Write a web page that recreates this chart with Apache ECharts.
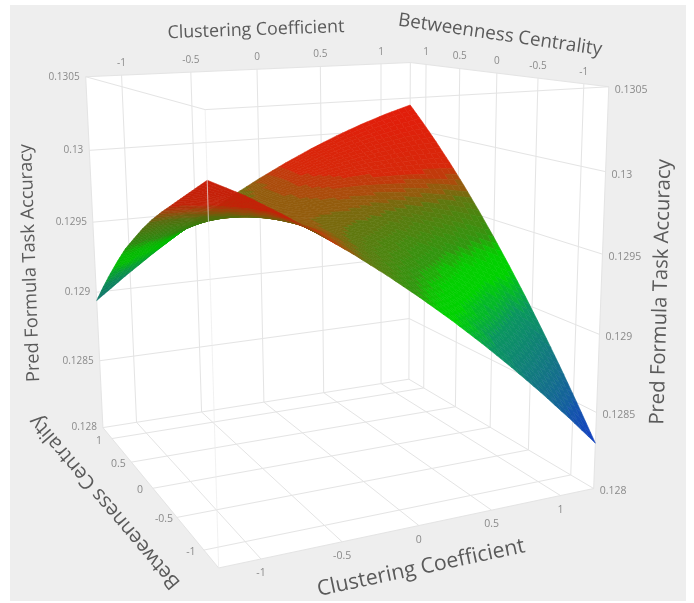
<!DOCTYPE html>
<html><head><meta charset="utf-8">
<style>html,body{margin:0;padding:0;background:#fff}#c{width:694px;height:603px}</style>
<script src="https://cdn.jsdelivr.net/npm/echarts@6/dist/echarts.min.js"></script>
</head><body><div id="c"></div>
<script>
const clusterTicks=[-1,-0.5,0,0.5,1];
const betweenTicks=[1,0.5,0,-0.5,-1];
const zTicks=[0.128,0.1285,0.129,0.1295,0.13,0.1305];
const gridRange=[-1.25,1.25], zRange=[0.128,0.1305];
const gridAxis=[-1.25,-1.0417,-0.8333,-0.625,-0.4167,-0.2083,0,0.2083,0.4167,0.625,0.8333,1.0417,1.25];
// rows: Betweenness Centrality rising from -1.25; columns: Clustering Coefficient rising from -1.25
const zB0=[0.13014,0.130042,0.129925,0.1298,0.129667,0.129525,0.129375,0.129217,0.12905,0.128875,0.128692,0.1285,0.1283];
const zB1=[0.130065,0.12999,0.12991,0.129806,0.129694,0.129574,0.129446,0.129309,0.129164,0.12901,0.128848,0.128678,0.128499];
const zB2=[0.12999,0.129945,0.129887,0.129805,0.129714,0.129616,0.129509,0.129393,0.129269,0.129137,0.128997,0.128848,0.128691];
const zB3=[0.129915,0.129893,0.129848,0.129782,0.129711,0.129635,0.129556,0.12947,0.129367,0.129257,0.129138,0.129011,0.128875];
const zB4=[0.12984,0.129835,0.129804,0.129755,0.129703,0.129651,0.129597,0.129539,0.129458,0.129369,0.129271,0.129165,0.129051];
const zB5=[0.12976,0.12977,0.129754,0.129723,0.129692,0.129662,0.129633,0.1296,0.12954,0.129473,0.129397,0.129312,0.129219];
const zB6=[0.12967,0.129705,0.129698,0.129687,0.129677,0.12967,0.129663,0.129653,0.129615,0.129569,0.129514,0.129451,0.12938];
const zB7=[0.12957,0.129622,0.129638,0.12965,0.129662,0.129675,0.129689,0.129698,0.129682,0.129657,0.129624,0.129583,0.129533];
const zB8=[0.129468,0.129531,0.129572,0.129609,0.129643,0.129677,0.129709,0.129736,0.129741,0.129738,0.129726,0.129706,0.129678];
const zB9=[0.129347,0.129432,0.129501,0.129563,0.129621,0.129674,0.129723,0.129766,0.129793,0.129811,0.12982,0.129822,0.129815];
const zB10=[0.129219,0.129326,0.129424,0.129513,0.129594,0.129667,0.129732,0.129788,0.129836,0.129876,0.129907,0.12993,0.129944];
const zB11=[0.129084,0.129211,0.129331,0.129442,0.129544,0.129639,0.129725,0.129803,0.129872,0.129933,0.129986,0.13003,0.130066];
const zB12=[0.12894,0.129089,0.12923,0.129363,0.129487,0.129603,0.12971,0.129809,0.1299,0.129983,0.130057,0.130123,0.13018];
const zValues=[zB0,zB1,zB2,zB3,zB4,zB5,zB6,zB7,zB8,zB9,zB10,zB11,zB12];
const N=gridAxis.length;
const cubeCorners=[[0,0,0,218,568],[1,0,0,594,487],[0,1,0,103,428],[1,1,0,409,380],[0,0,1,204,110],[1,0,1,610,88],[0,1,1,87,76],[1,1,1,409,62]];
function solve(A,y){const n=y.length;const M=A.map((r,i)=>[...r,y[i]]);for(let i=0;i<n;i++){let p=i;for(let k=i+1;k<n;k++)if(Math.abs(M[k][i])>Math.abs(M[p][i]))p=k;[M[i],M[p]]=[M[p],M[i]];for(let k=0;k<n;k++){if(k===i)continue;const f=M[k][i]/M[i][i];for(let j=i;j<=n;j++)M[k][j]-=f*M[i][j];}}return M.map((r,i)=>r[n]/r[i]);}
const cam=(()=>{const rows=[],ys=[];cubeCorners.forEach(([u,v,w,x,y])=>{rows.push([u,v,w,1,0,0,0,0,-x*u,-x*v,-x*w]);ys.push(x);rows.push([0,0,0,0,u,v,w,1,-y*u,-y*v,-y*w]);ys.push(y);});
const AtA=Array.from({length:11},(_,i)=>Array.from({length:11},(_,j)=>rows.reduce((s,r)=>s+r[i]*r[j],0)));const Aty=Array.from({length:11},(_,i)=>rows.reduce((s,r,k)=>s+r[i]*ys[k],0));return solve(AtA,Aty);})();
function proj(c,b,z){const u=(c-gridRange[0])/(gridRange[1]-gridRange[0]),v=(b-gridRange[0])/(gridRange[1]-gridRange[0]),w=(z-zRange[0])/(zRange[1]-zRange[0]);const h=cam[8]*u+cam[9]*v+cam[10]*w+1;return [(cam[0]*u+cam[1]*v+cam[2]*w+cam[3])/h,(cam[4]*u+cam[5]*v+cam[6]*w+cam[7])/h,h];}
const cMin=gridRange[0],cMax=gridRange[1],zMin=zRange[0],zMax=zRange[1];
const bandStep=0.00004;
const colorStops=[[.1283,[20,60,200]],[.1287,[20,115,135]],[.1290,[10,150,95]],[.1292,[0,210,0]],[.1293,[5,205,0]],[.1294,[50,150,15]],[.1296,[95,120,15]],[.1297,[160,85,12]],[.1298,[215,40,10]],[.1301,[225,30,10]]];
function colorArr(zz){const z=Math.round(zz/bandStep)*bandStep;if(z<=colorStops[0][0])return colorStops[0][1];for(let i=1;i<colorStops.length;i++){if(z<=colorStops[i][0]){const t=(z-colorStops[i-1][0])/(colorStops[i][0]-colorStops[i-1][0]);const a=colorStops[i-1][1],b=colorStops[i][1];return a.map((v,k)=>Math.round(v+(b[k]-v)*t));}}return colorStops[colorStops.length-1][1];}
// facets
const SUB=4,facets=[];
function sample(fi,fj){const gi=Math.min(Math.floor(fi),N-2),gj=Math.min(Math.floor(fj),N-2),s=fi-gi,t=fj-gj;const b0=gridAxis[gi],c0=gridAxis[gj],b1=gridAxis[gi+1],c1=gridAxis[gj+1];
const z=zValues[gi][gj]*(1-s)*(1-t)+zValues[gi][gj+1]*(1-s)*t+zValues[gi+1][gj]*s*(1-t)+zValues[gi+1][gj+1]*s*t;return [c0+t*(c1-c0),b0+s*(b1-b0),z];}
for(let i=0;i<(N-1)*SUB;i++)for(let j=0;j<(N-1)*SUB;j++){const q=[[i,j],[i,j+1],[i+1,j+1],[i+1,j]].map(([a,b])=>sample(a/SUB,b/SUB));const p=q.map(v=>proj(...v));const z=(q[0][2]+q[1][2]+q[2][2]+q[3][2])/4;const h=(p[0][2]+p[1][2]+p[2][2]+p[3][2])/4;
let area=0;for(let k=0;k<4;k++){const a=p[k],b=p[(k+1)%4];area+=a[0]*b[1]-b[0]*a[1];}
const under=area>0;const col=colorArr(under?z-0.00012:z).map(v=>Math.round(v*(under?0.9:1)));facets.push({q,h,c:'rgb('+col.join(',')+')'});}
facets.sort((a,b)=>b.h-a.h);
// lines
const lines=[];
const L=(a,b,col)=>lines.push({a,b,col:col||'#e4e4e4'});
clusterTicks.forEach(c=>{L([c,cMax,zMin],[c,cMax,zMax]);L([c,cMin,zMin],[c,cMax,zMin]);});
betweenTicks.forEach(b=>{L([cMax,b,zMin],[cMax,b,zMax]);L([cMin,b,zMin],[cMax,b,zMin]);});
zTicks.forEach(z=>{L([cMin,cMax,z],[cMax,cMax,z]);L([cMax,cMax,z],[cMax,cMin,z]);});
L([cMin,cMax,zMax],[cMin,cMin,zMax]);L([cMin,cMin,zMax],[cMax,cMin,zMax]);
L([cMin,cMin,zMin],[cMin,cMax,zMin]);L([cMin,cMin,zMin],[cMax,cMin,zMin]);
L([cMin,cMax,zMin],[cMin,cMax,zMax]);L([cMax,cMin,zMin],[cMax,cMin,zMax]);L([cMax,cMax,zMin],[cMax,cMax,zMax]);
const frontEdge=[[cMin,cMin,zMin],[cMin,cMin,zMax]];
// texts
const tickColor='#8a8a8a',titleColor='#5a5a5a',ff='"Open Sans"';
const texts=[];
function T(text,x,y,size,color,rot,align){texts.push({text,x,y,size,color,rot:rot||0,align:align||'center'});}
clusterTicks.forEach(c=>{let p=proj(c,cMin,zMin);T(String(c),p[0],p[1]+14,10.5,tickColor);p=proj(c,cMax,zMax);T(String(c),p[0],p[1]-12,10,tickColor);});
betweenTicks.forEach(b=>{let p=proj(cMin,b,zMin);T(String(b),p[0]-13,p[1]+2,10.5,tickColor);p=proj(cMax,b,zMax);T(String(b),p[0],p[1]-12,10,tickColor);});
zTicks.forEach(z=>{let p=proj(cMin,cMax,z);T(String(z),p[0]-6,p[1],10,tickColor,0,'right');p=proj(cMax,cMin,z);T(String(z),p[0]+6,p[1]+3,10.5,tickColor,0,'left');});
T('Clustering Coefficient',256,30,17.8,titleColor,0.035);
T('Betweenness Centrality',500,35,18.8,titleColor,-0.145);
T('Clustering Coefficient',421,568,21.3,titleColor,0.21);
T('Betweenness Centrality',105,502,20.2,titleColor,Math.PI*130.4/180);
T('Pred Formula Task Accuracy',30,263,18.2,titleColor,Math.PI*92/180);
T('Pred Formula Task Accuracy',661,292,20.3,titleColor,Math.PI*88.5/180);
const hullCorners=[[cMin,cMax,zMax],[cMax,cMax,zMax],[cMax,cMin,zMax],[cMax,cMin,zMin],[cMin,cMin,zMin],[cMin,cMax,zMin]];
const idx=a=>a.map((_,i)=>[i,i]);
const chart=echarts.init(document.getElementById('c'));
chart.setOption({animation:false,backgroundColor:'#ffffff',
grid:{left:0,right:0,top:0,bottom:0},
xAxis:{type:'value',min:0,max:694,show:false},yAxis:{type:'value',min:0,max:603,inverse:true,show:false},
series:[
{type:'custom',silent:true,z:1,clip:false,data:[[0,0]],renderItem(p,api){const a=api.coord([10,5]),b=api.coord([686,601]);
 return {type:'group',children:[{type:'rect',shape:{x:a[0],y:a[1],width:b[0]-a[0],height:b[1]-a[1]},style:{fill:'#eeeeee'}},
 {type:'polygon',shape:{points:hullCorners.map(v=>{const q=proj(...v);return api.coord([q[0],q[1]]);})},style:{fill:'#ffffff'}}]};}},
{type:'custom',silent:true,z:2,clip:false,progressive:0,data:idx(lines),renderItem(p,api){const l=lines[p.dataIndex],a=proj(...l.a),b=proj(...l.b),A=api.coord([a[0],a[1]]),B=api.coord([b[0],b[1]]);return {type:'line',shape:{x1:A[0],y1:A[1],x2:B[0],y2:B[1]},style:{stroke:l.col,lineWidth:1}};}},
{type:'custom',silent:true,z:3,clip:false,progressive:0,data:idx(facets),renderItem(p,api){const f=facets[p.dataIndex];return {type:'polygon',shape:{points:f.q.map(v=>{const q=proj(...v);return api.coord([q[0],q[1]]);})},style:{fill:f.c,stroke:f.c,lineWidth:0.6}};}},
{type:'custom',silent:true,z:4,clip:false,data:[[0,0]],renderItem(p,api){const a=proj(...frontEdge[0]),b=proj(...frontEdge[1]),A=api.coord([a[0],a[1]]),B=api.coord([b[0],b[1]]);return {type:'line',shape:{x1:A[0],y1:A[1],x2:B[0],y2:B[1]},style:{stroke:'rgba(235,235,235,0.7)',lineWidth:1}};}},
{type:'custom',silent:true,z:5,clip:false,progressive:0,data:idx(texts),renderItem(p,api){const t=texts[p.dataIndex],a=api.coord([t.x,t.y]);return {type:'text',x:a[0],y:a[1],rotation:t.rot,style:{text:t.text,align:t.align,verticalAlign:'middle',font:t.size+'px '+ff,fill:t.color}};}}
]});
</script></body></html>
